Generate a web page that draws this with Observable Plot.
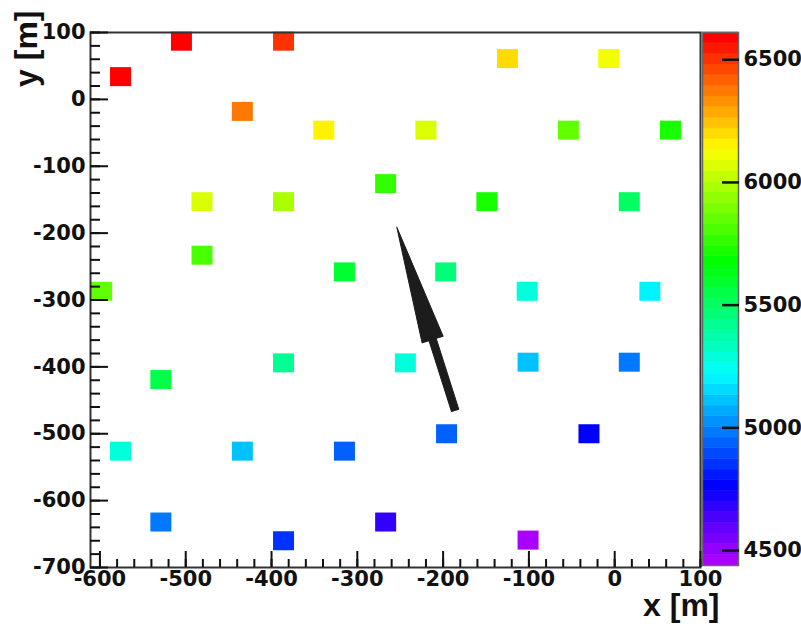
<!DOCTYPE html>
<html><head><meta charset="utf-8">
<script src="https://cdn.jsdelivr.net/npm/d3@7"></script>
<script src="https://cdn.jsdelivr.net/npm/@observablehq/plot@0.6"></script>
<style>
html,body{margin:0;padding:0;background:#fff;}
#wrap{position:relative;width:801px;height:624px;overflow:hidden;}
#wrap svg{position:absolute;left:0;top:0;overflow:visible;}
</style></head><body><div id="wrap"></div>
<script>
// station positions [m] and values
const xs = [-576, -505, -386, -434, -339, -481, -386, -267, -481, -315, -598, -125, -7, -220, -54, 65, -149, 17, -197, -102, 41, -386, -529, -576, -434, -315, -529, -386, -267, -244, -101, 17, -196, -30, -101];
const ys = [34, 87, 87, -18, -46, -153, -153, -126, -233, -258, -287, 61, 61, -46, -46, -46, -153, -153, -258, -287, -287, -394, -419, -526, -526, -526, -632, -660, -632, -394, -393, -393, -500, -500, -659];
const zs = [6590, 6611, 6520, 6360, 6150, 6050, 5960, 5770, 5800, 5590, 5850, 6200, 6100, 6060, 5860, 5740, 5720, 5520, 5460, 5300, 5210, 5400, 5560, 5280, 5120, 4950, 4995, 4870, 4690, 5290, 5120, 4965, 4935, 4750, 4450];

const xDomain = [-611, 100];
const yDomain = [-700, 100];
const zMin = 4439, zMax = 6611;
const xTicks = [-600, -500, -400, -300, -200, -100, 0, 100];
const yTicks = [-700, -600, -500, -400, -300, -200, -100, 0, 100];
const zTicks = [4500, 5000, 5500, 6000, 6500];
const xMinor = d3.range(-600, 101, 20);
const yMinor = d3.range(-700, 101, 20);

// arrow (tail -> tip) in data units
const arrowTail = [-186, -465];
const arrowTip = [-254, -191];

const W = 801, H = 624;
const m = {left: 90, right: 101, top: 32, bottom: 57};
const cb = {left: 702, right: 63, top: 32, bottom: 59};

// ROOT-like "pretty" palette: 50 colours, violet -> red
const nCol = 50;
const palette = d3.range(nCol).map(i => d3.hsl(280 * (1 - i / (nCol - 1)), 1, 0.5).formatHex());
const thresholds = d3.range(1, nCol).map(i => zMin + i * (zMax - zMin) / nCol);
const colorOpts = {type: "threshold", domain: thresholds, range: palette};

const points = xs.map((x, i) => ({x, y: ys[i], z: zs[i]}));

const sx = d3.scaleLinear(xDomain, [m.left, W - m.right]);
const sy = d3.scaleLinear(yDomain, [H - m.bottom, m.top]);
const adx = sx(arrowTip[0]) - sx(arrowTail[0]);
const ady = sy(arrowTip[1]) - sy(arrowTail[1]);
const arrowLen = Math.hypot(adx, ady);
const arrowRot = Math.atan2(adx, -ady) * 180 / Math.PI;

const square = {draw(ctx) { ctx.rect(-10.5, -9.5, 21, 19); }};
const arrowShape = {draw(ctx, l) {
  const hl = 118, hw = 11, sw = 3.8;
  ctx.moveTo(-sw, 0);
  ctx.lineTo(-sw, -(l - hl));
  ctx.lineTo(-hw, -(l - hl));
  ctx.lineTo(0, -l);
  ctx.lineTo(hw, -(l - hl));
  ctx.lineTo(sw, -(l - hl));
  ctx.lineTo(sw, 0);
  ctx.closePath();
}};

const baseStyle = {fontFamily: "DejaVu Sans", fontSize: "21px", fontWeight: "bold", color: "#111", background: "transparent", overflow: "visible"};
const fmt = d => String(d);

const main = Plot.plot({
  width: W, height: H,
  marginLeft: m.left, marginRight: m.right, marginTop: m.top, marginBottom: m.bottom,
  x: {domain: xDomain},
  y: {domain: yDomain},
  color: colorOpts,
  style: baseStyle,
  marks: [
    Plot.dot(points, {x: "x", y: "y", fill: "z", symbol: square, r: 10, stroke: "none"}),
    Plot.vector([arrowTail], {x: d => d[0], y: d => d[1], length: arrowLen, rotate: arrowRot, anchor: "start", shape: arrowShape, fill: "#1c1c1c", stroke: "#1c1c1c", strokeWidth: 1}),
    Plot.frame({stroke: "#333", strokeWidth: 2}),
    Plot.axisX({ticks: xMinor, tickSize: -8, tickFormat: () => "", label: null, strokeWidth: 2}),
    Plot.axisX({ticks: xTicks, tickSize: -16, tickPadding: 20, tickFormat: fmt, label: null, strokeWidth: 2}),
    Plot.axisY({ticks: yMinor, tickSize: -10, tickFormat: () => "", label: null, strokeWidth: 2}),
    Plot.axisY({ticks: yTicks, tickSize: -18, tickPadding: 23, tickFormat: fmt, label: null, strokeWidth: 2}),
    Plot.text(["x [m]"], {frameAnchor: "bottom-right", dx: 19, dy: 38, textAnchor: "end", lineAnchor: "middle", fontFamily: "Liberation Sans", fontSize: 32, fontWeight: "bold", fill: "#111"}),
    Plot.text(["y [m]"], {frameAnchor: "top-left", rotate: -90, dx: -64, dy: -22, textAnchor: "end", lineAnchor: "middle", fontFamily: "Liberation Sans", fontSize: 32, fontWeight: "bold", fill: "#111"})
  ]
});

const edges = d3.range(nCol + 1).map(i => zMin + i * (zMax - zMin) / nCol);
const bands = d3.range(nCol).map(i => ({y1: edges[i], y2: edges[i + 1], z: (edges[i] + edges[i + 1]) / 2}));

const bar = Plot.plot({
  width: W, height: H,
  marginLeft: cb.left, marginRight: cb.right, marginTop: cb.top, marginBottom: cb.bottom,
  y: {domain: [zMin, zMax]},
  color: colorOpts,
  style: baseStyle,
  marks: [
    Plot.rect(bands, {y1: "y1", y2: "y2", fill: "z", stroke: "z", strokeWidth: 0.5}),
    Plot.frame({stroke: "#666", strokeWidth: 1.5}),
    Plot.axisY({anchor: "right", ticks: zTicks, tickSize: -17, tickPadding: 22, tickFormat: fmt, label: null, strokeWidth: 2.5})
  ]
});

const wrap = document.getElementById("wrap");
wrap.appendChild(main);
wrap.appendChild(bar);
</script></body></html>
